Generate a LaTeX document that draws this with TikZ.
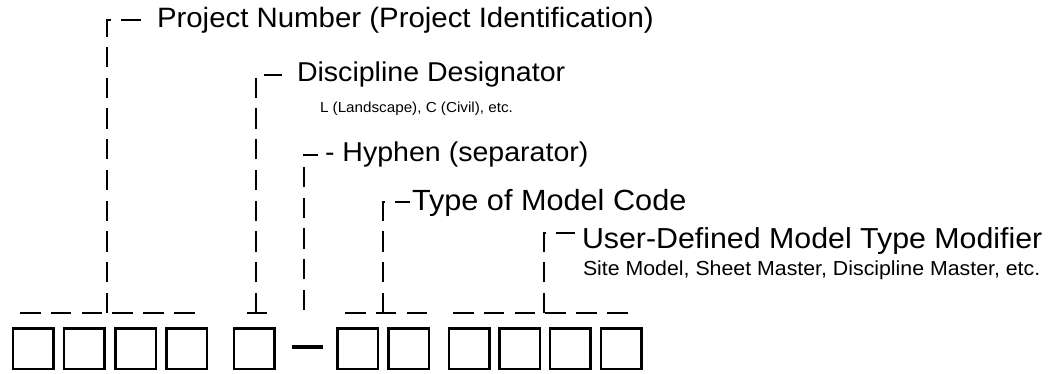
\documentclass[tikz,border=0pt]{standalone}
\usepackage{fontspec}
\setmainfont[FakeStretch=1.05]{Liberation Sans}
\begin{document}
\begin{tikzpicture}[x=1pt,y=-1pt,
  bx/.style={draw, line width=2.5pt, minimum width=40.5pt, minimum height=40.5pt, inner sep=0pt, outer sep=0pt},
  hybar/.style={fill=black, minimum width=31pt, minimum height=4pt, inner sep=0pt, outer sep=0pt},
  lead/.style={line width=2.8pt, dash pattern=on 20.4pt off 10.3pt},
  baseline/.style={line width=2.8pt, dash pattern=on 20.5pt off 10.3pt},
  lbl/.style={anchor=base west, inner sep=0pt, outer sep=0pt},
  big/.style={lbl, font=\fontsize{28}{30}\selectfont},
  smallA/.style={lbl, font=\fontsize{14.5}{16}\selectfont},
  smallB/.style={lbl, font=\fontsize{20.3}{22}\selectfont}]
\useasboundingbox (0,0) rectangle (1048,374);

% boxes
\foreach \i/\x in {1/33,2/84.3,3/135.6,4/186.9} \node[bx] (p\i) at (\x,348.5) {};
\node[bx] (d) at (254,348.5) {};
\node[hybar] (hy) at (307.5,347) {};
\foreach \i/\x in {1/357.5,2/408.5} \node[bx] (t\i) at (\x,348.5) {};
\foreach \i/\x in {1/469,2/519.7,3/570.4,4/621} \node[bx] (u\i) at (\x,348.5) {};

% group base lines
\coordinate (g1a) at (20,313);  \coordinate (g1b) at (195,313);
\coordinate (g2a) at (247,313); \coordinate (g2b) at (267,313);
\coordinate (g3a) at (345,313); \coordinate (g3b) at (427,313);
\coordinate (g4a) at (453,313); \coordinate (g4b) at (628,313);
\draw[baseline] (g1a) -- (g1b);
\draw[baseline] (g2a) -- (g2b);
\draw[baseline] (g3a) -- (g3b);
\draw[baseline] (g4a) -- (g4b);

% junctions
\coordinate (j1) at (107,313);
\coordinate (j2) at (256,313);
\coordinate (j3) at (304,310);
\coordinate (j4) at (383,313);
\coordinate (j5) at (544,313);

% labels
\node[big] (lab1) at (157,28) {Project Number (Project Identification)};
\node[big, font=\fontsize{27.2}{30}\selectfont] (lab2) at (297,82) {Discipline Designator};
\node[smallA] (lab2s) at (320,113) {L (Landscape), C (Civil), etc.};
\node[big, font=\fontsize{27.2}{30}\selectfont] (lab3) at (325,162) {- Hyphen (separator)};
\node[big, font=\fontsize{29.2}{31}\selectfont] (lab4) at (412,210) {Type of Model Code};
\node[big, font=\fontsize{28.9}{31}\selectfont] (lab5) at (582,248) {User-Defined Model Type Modifier};
\node[smallB] (lab5s) at (583,275) {Site Model, Sheet Master, Discipline Master, etc.};

% leaders
\draw[lead] (j1) |- ([xshift=-14pt,yshift=8pt]lab1.base west);
\draw[lead] (j2) |- ([xshift=-15pt,yshift=7pt]lab2.base west);
\draw[lead] (j3) |- ([xshift=-7pt,yshift=7pt]lab3.base west);
\draw[lead] (j4) |- ([xshift=-2pt,yshift=8pt]lab4.base west);
\draw[lead] (j5) |- ([xshift=-7pt,yshift=15pt]lab5.base west);
\end{tikzpicture}
\end{document}
